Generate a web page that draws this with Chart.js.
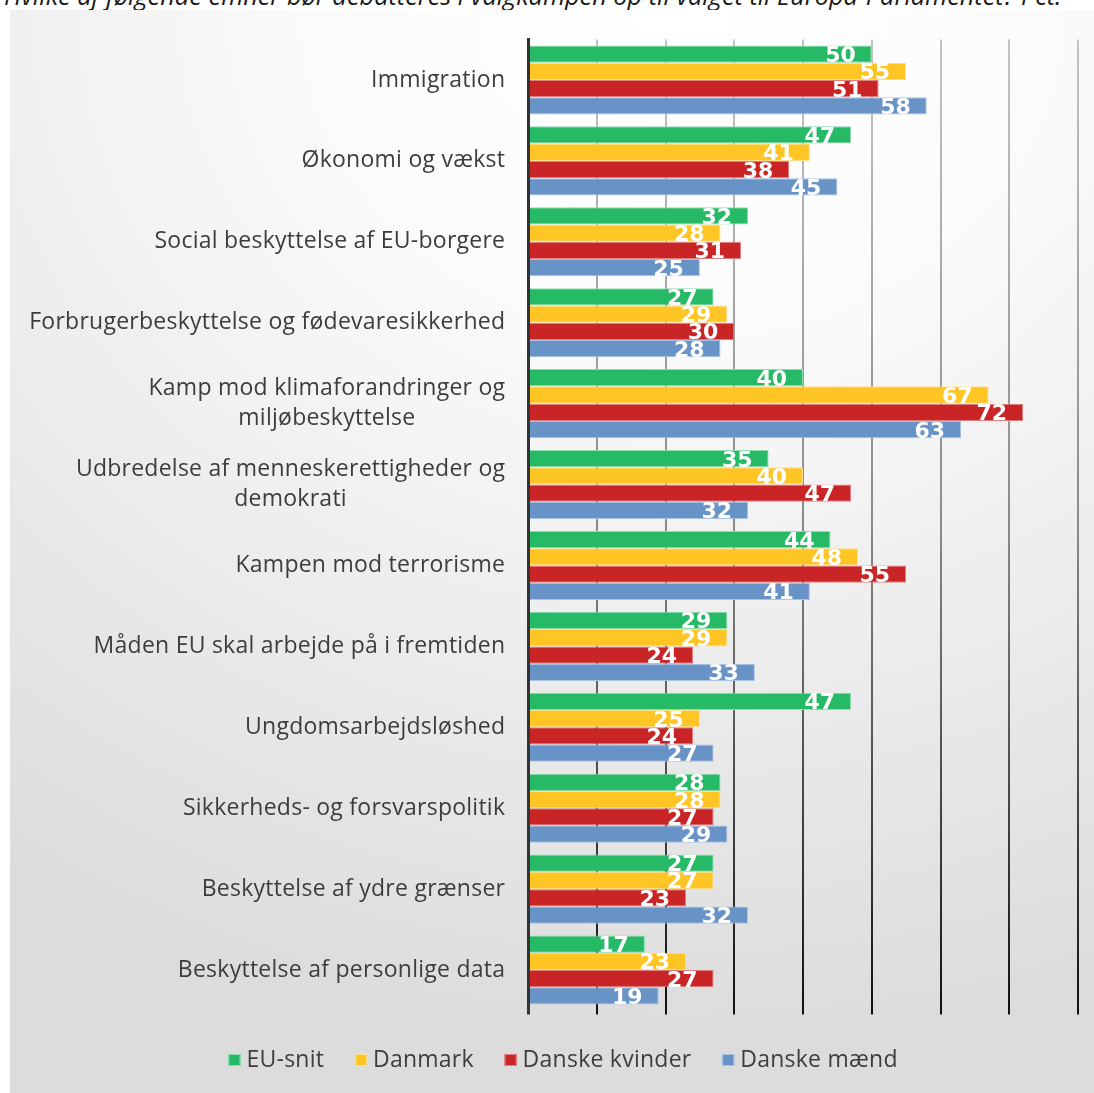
<!DOCTYPE html>
<html><head><meta charset="utf-8">
<script src="https://cdn.jsdelivr.net/npm/chart.js@4"></script>
<style>
html,body{margin:0;padding:0;background:#fff;width:1094px;height:1093px;overflow:hidden;position:relative;}
#title{position:absolute;left:4px;top:-15px;white-space:nowrap;font-family:"Open Sans";font-style:italic;font-size:21px;line-height:21px;color:#1a1a1a;z-index:0;}
#box{position:absolute;left:10px;top:10px;width:1084px;height:1083px;z-index:1;
background:radial-gradient(ellipse 110% 95% at 62% 0%, #ffffff 0%, #fbfbfb 30%, #ececec 65%, #dcdcdc 100%);}
canvas{display:block}
</style></head>
<body>
<div id="title">Hvilke af følgende emner bør debatteres i valgkampen op til valget til Europa-Parlamentet? Pct.</div>
<div id="box"><canvas id="c" width="1084" height="1083"></canvas></div>
<script>
const categories = [
 ["Immigration"],
 ["Økonomi og vækst"],
 ["Social beskyttelse af EU-borgere"],
 ["Forbrugerbeskyttelse og fødevaresikkerhed"],
 ["Kamp mod klimaforandringer og","miljøbeskyttelse"],
 ["Udbredelse af menneskerettigheder og","demokrati"],
 ["Kampen mod terrorisme"],
 ["Måden EU skal arbejde på i fremtiden"],
 ["Ungdomsarbejdsløshed"],
 ["Sikkerheds- og forsvarspolitik"],
 ["Beskyttelse af ydre grænser"],
 ["Beskyttelse af personlige data"]
];
const seriesNames = ["EU-snit","Danmark","Danske kvinder","Danske mænd"];
const euSnit        = [50,47,32,27,40,35,44,29,47,28,27,17];
const danmark       = [55,41,28,29,67,40,48,29,25,28,27,23];
const danskeKvinder = [51,38,31,30,72,47,55,24,24,27,23,27];
const danskeMaend   = [58,45,25,28,63,32,41,33,27,29,32,19];
const xTicks = [0,10,20,30,40,50,60,70,80];

const fills   = ["#27BA66","#FEC524","#C92527","#6893C7"];
const borders = ["#8fdcb0","#fde08e","#e07f80","#a9c3e3"];
const seriesValues = [euSnit, danmark, danskeKvinder, danskeMaend];

const LABEL_FONT = '23px "Open Sans"';
const TEXT_COLOR = '#3d3d3d';
let LETTER_SP = null;

function setLabelFont(ctx){
  ctx.font = LABEL_FONT;
  if (LETTER_SP === null){
    ctx.letterSpacing = '0px';
    const ref = "Forbrugerbeskyttelse og fødevaresikkerhed";
    const w = ctx.measureText(ref).width;
    LETTER_SP = Math.max(0, (476 - w) / ref.length);
  }
  ctx.letterSpacing = LETTER_SP.toFixed(2) + 'px';
}

const dataLabels = {
  id:'dataLabels',
  afterDatasetsDraw(chart){
    const ctx = chart.ctx;
    ctx.save();
    ctx.font = 'bold 22px "DejaVu Sans"';
    ctx.fillStyle = '#ffffff';
    ctx.textAlign = 'right';
    ctx.textBaseline = 'alphabetic';
    chart.data.datasets.forEach((ds,i)=>{
      chart.getDatasetMeta(i).data.forEach((bar,j)=>{
        ctx.fillText(String(ds.data[j]), bar.x - 16, bar.y + 8);
      });
    });
    ctx.restore();
  }
};

const catLabels = {
  id:'catLabels',
  afterDraw(chart){
    const ctx = chart.ctx, ys = chart.scales.y;
    const rightEdge = chart.chartArea.left - 23;
    ctx.save();
    setLabelFont(ctx);
    ctx.fillStyle = TEXT_COLOR;
    ctx.textAlign = 'left';
    ctx.textBaseline = 'middle';
    const lh = 30;
    chart.data.labels.forEach((lines,i)=>{
      const y = ys.getPixelForValue(i);
      const ws = lines.map(l=>ctx.measureText(l).width - LETTER_SP);
      const maxW = Math.max(...ws);
      const cx = rightEdge - maxW/2;
      const y0 = y - (lines.length-1)*lh/2;
      lines.forEach((l,k)=>ctx.fillText(l, cx - ws[k]/2, y0 + k*lh));
    });
    ctx.restore();
  }
};

const legendPlugin = {
  id:'customLegend',
  afterDraw(chart){
    const ctx = chart.ctx;
    ctx.save();
    setLabelFont(ctx);
    const box = 12, gapBox = 6, gapItem = 31;
    const widths = seriesNames.map(n=>ctx.measureText(n).width - LETTER_SP);
    const total = widths.reduce((a,w)=>a+box+gapBox+w,0) + gapItem*(seriesNames.length-1);
    let x = 553 - total/2;
    const cy = 1050;
    ctx.textBaseline = 'middle';
    ctx.textAlign = 'left';
    seriesNames.forEach((n,i)=>{
      ctx.fillStyle = fills[i];
      ctx.fillRect(x, cy-6, box, box);
      ctx.strokeStyle = borders[i];
      ctx.lineWidth = 1;
      ctx.strokeRect(x+0.5, cy-5.5, box-1, box-1);
      ctx.fillStyle = TEXT_COLOR;
      ctx.fillText(n, x+box+gapBox, cy);
      x += box + gapBox + widths[i] + gapItem;
    });
    ctx.restore();
  }
};

new Chart(document.getElementById('c'), {
  type:'bar',
  data:{
    labels: categories,
    datasets: seriesNames.map((n,i)=>({
      label:n,
      data: seriesValues[i],
      backgroundColor: fills[i],
      borderColor: borders[i],
      borderWidth: 1,
      categoryPercentage: 0.853,
      barPercentage: 1
    }))
  },
  options:{
    indexAxis:'y',
    responsive:false,
    animation:false,
    devicePixelRatio:1,
    layout:{padding:{top:29.5,right:16,left:0,bottom:78.5}},
    plugins:{legend:{display:false},tooltip:{enabled:false},title:{display:false}},
    scales:{
      x:{
        min:0,max:80,
        afterBuildTicks(s){ s.ticks = xTicks.map(v=>({value:v})); },
        ticks:{display:false},
        border:{display:false},
        grid:{
          drawTicks:true, tickLength:4,
          lineWidth:(c)=> c.index===0 ? 3 : 2,
          color:(c)=>{
            if (c.index===0) return '#333333';
            const a = c.chart.chartArea;
            if(!a) return '#999';
            const g = c.chart.ctx.createLinearGradient(0,a.top,0,a.bottom+4);
            g.addColorStop(0,'#c4c4c4');
            g.addColorStop(0.5,'#8a8a8a');
            g.addColorStop(1,'#111111');
            return g;
          }
        },
        afterFit(s){ s.height = 4; }
      },
      y:{
        ticks:{display:false},
        grid:{display:false},
        border:{display:true,color:'#333333',width:3,z:1},
        afterFit(s){ s.width = 518; }
      }
    }
  },
  plugins:[dataLabels, catLabels, legendPlugin]
});

(function(){
  const t = document.getElementById('title');
  const w = t.getBoundingClientRect().width;
  const target = 1058;
  t.style.fontSize = (21*target/w).toFixed(2)+'px';
})();
</script>
</body></html>
